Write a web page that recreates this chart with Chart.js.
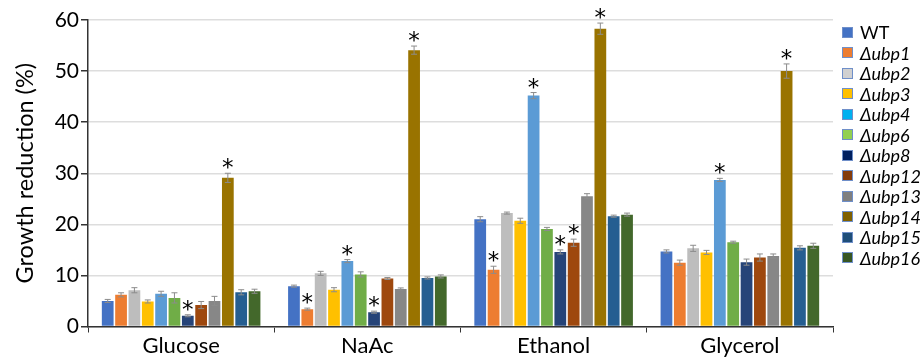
<!DOCTYPE html>
<html>
<head>
<meta charset="utf-8">
<script src="https://cdn.jsdelivr.net/npm/chart.js@4.4.0/dist/chart.umd.min.js"></script>
<style>
  html, body { margin: 0; padding: 0; background: #fff; }
  #wrap { position: relative; width: 922px; height: 357px; }
  #legend { position: absolute; left: 842px; top: 22px; font-family: Lato, "Open Sans", sans-serif; font-size: 18px; color: #000; }
  .item { height: 20.5px; display: flex; align-items: center; }
  .box { width: 9px; height: 9px; border: 1px solid #6F8FC9; margin-right: 7px; box-sizing: content-box; }
  .it { font-style: italic; }
</style>
</head>
<body>
<div id="wrap">
  <canvas id="c" width="922" height="357"></canvas>
  <div id="legend"></div>
</div>
<script>
const categories = ['Glucose', 'NaAc', 'Ethanol', 'Glycerol'];
const seriesNames = ['WT', 'Δubp1', 'Δubp2', 'Δubp3', 'Δubp4', 'Δubp6', 'Δubp8', 'Δubp12', 'Δubp13', 'Δubp14', 'Δubp15', 'Δubp16'];
const barColors = ['#4472C4', '#ED7D31', '#BDBDBD', '#FFC000', '#5B9BD5', '#70AD47', '#264478', '#9E480E', '#878787', '#997300', '#255E91', '#43682B'];
const legendColors = ['#4472C4', '#ED7D31', '#D0D0D0', '#FFC000', '#00B0F0', '#92D050', '#002060', '#843C0C', '#7F7F7F', '#7F6000', '#1F4E79', '#375623'];

// values per series: Glucose, NaAc, Ethanol, Glycerol
const valWT    = [5.0, 7.9, 21.0, 14.7];
const valUbp1  = [6.2, 3.4, 11.1, 12.5];
const valUbp2  = [7.1, 10.4, 22.2, 15.3];
const valUbp3  = [4.9, 7.2, 20.7, 14.5];
const valUbp4  = [6.4, 12.8, 45.2, 28.7];
const valUbp6  = [5.6, 10.2, 19.1, 16.5];
const valUbp8  = [2.1, 2.8, 14.6, 12.6];
const valUbp12 = [4.2, 9.4, 16.4, 13.5];
const valUbp13 = [5.0, 7.35, 25.5, 13.8];
const valUbp14 = [29.1, 54.1, 58.3, 50.0];
const valUbp15 = [6.7, 9.5, 21.6, 15.4];
const valUbp16 = [6.9, 9.8, 21.9, 15.8];

// error (± SD)
const errWT    = [0.3, 0.2, 0.5, 0.3];
const errUbp1  = [0.4, 0.2, 0.7, 0.5];
const errUbp2  = [0.5, 0.4, 0.2, 0.6];
const errUbp3  = [0.3, 0.4, 0.5, 0.4];
const errUbp4  = [0.5, 0.3, 0.6, 0.3];
const errUbp6  = [1.0, 0.5, 0.3, 0.2];
const errUbp8  = [0.2, 0.2, 0.4, 0.6];
const errUbp12 = [0.7, 0.2, 0.7, 0.7];
const errUbp13 = [0.9, 0.2, 0.5, 0.4];
const errUbp14 = [0.9, 0.8, 1.1, 1.4];
const errUbp15 = [0.5, 0.2, 0.2, 0.4];
const errUbp16 = [0.4, 0.3, 0.3, 0.5];

// significance markers (1 = asterisk)
const sigWT    = [0, 0, 0, 0];
const sigUbp1  = [0, 1, 1, 0];
const sigUbp2  = [0, 0, 0, 0];
const sigUbp3  = [0, 0, 0, 0];
const sigUbp4  = [0, 1, 1, 1];
const sigUbp6  = [0, 0, 0, 0];
const sigUbp8  = [1, 1, 1, 0];
const sigUbp12 = [0, 0, 1, 0];
const sigUbp13 = [0, 0, 0, 0];
const sigUbp14 = [1, 1, 1, 1];
const sigUbp15 = [0, 0, 0, 0];
const sigUbp16 = [0, 0, 0, 0];

const yTicks = [0, 10, 20, 30, 40, 50, 60];

const allVals = [valWT, valUbp1, valUbp2, valUbp3, valUbp4, valUbp6, valUbp8, valUbp12, valUbp13, valUbp14, valUbp15, valUbp16];
const allErrs = [errWT, errUbp1, errUbp2, errUbp3, errUbp4, errUbp6, errUbp8, errUbp12, errUbp13, errUbp14, errUbp15, errUbp16];
const allSigs = [sigWT, sigUbp1, sigUbp2, sigUbp3, sigUbp4, sigUbp6, sigUbp8, sigUbp12, sigUbp13, sigUbp14, sigUbp15, sigUbp16];

const datasets = seriesNames.map((name, i) => ({
  label: name,
  data: allVals[i],
  backgroundColor: barColors[i],
  borderWidth: 0,
  errors: allErrs[i],
  sig: allSigs[i],
  categoryPercentage: 0.86,
  barPercentage: 0.88
}));

const errorBarPlugin = {
  id: 'errorBars',
  afterDatasetsDraw(chart) {
    const ctx = chart.ctx;
    const y = chart.scales.y;
    ctx.save();
    chart.data.datasets.forEach((ds, di) => {
      const meta = chart.getDatasetMeta(di);
      meta.data.forEach((bar, j) => {
        const v = ds.data[j], e = ds.errors[j];
        const top = y.getPixelForValue(v + e);
        const bot = y.getPixelForValue(v - e);
        ctx.strokeStyle = '#8C8C8C';
        ctx.lineWidth = 1;
        ctx.beginPath();
        ctx.moveTo(bar.x, top); ctx.lineTo(bar.x, bot);
        ctx.moveTo(bar.x - 3, top); ctx.lineTo(bar.x + 3, top);
        ctx.moveTo(bar.x - 3, bot); ctx.lineTo(bar.x + 3, bot);
        ctx.stroke();
        if (ds.sig[j]) {
          ctx.fillStyle = '#000';
          ctx.font = '23px "DejaVu Sans", sans-serif';
          ctx.textAlign = 'center';
          ctx.textBaseline = 'alphabetic';
          const m = ctx.measureText('*');
          const center = top - 9.5;
          const base = center - (m.actualBoundingBoxDescent - m.actualBoundingBoxAscent) / 2;
          ctx.fillText('*', bar.x, base);
        }
      });
    });
    ctx.restore();
  }
};

new Chart(document.getElementById('c'), {
  type: 'bar',
  data: { labels: categories, datasets },
  options: {
    responsive: false,
    animation: false,
    devicePixelRatio: 1,
    layout: { padding: { top: 20, right: 89, bottom: 0, left: 0 } },
    plugins: { legend: { display: false }, tooltip: { enabled: false } },
    scales: {
      x: {
        grid: { display: true, offset: true, drawOnChartArea: false, drawTicks: true, tickLength: 6, tickColor: '#333', color: '#333' },
        border: { display: true, color: '#333', width: 1.5 },
        ticks: { color: '#000', font: { family: 'Lato', size: 22 }, padding: 0 },
        afterFit(s) { s.height = 30.5; }
      },
      y: {
        min: 0, max: 60,
        afterBuildTicks(s) { s.ticks = yTicks.map(v => ({ value: v })); },
        grid: { color: '#DDDDDD', lineWidth: 1.5, tickLength: 7, tickColor: '#333' },
        border: { display: true, color: '#333', width: 1.5 },
        ticks: { color: '#000', font: { family: 'Lato', size: 21 }, padding: 2 },
        title: { display: true, text: 'Growth reduction (%)', color: '#000', font: { family: 'Lato', size: 23.5 }, padding: { top: 11, bottom: 0 } },
        afterFit(s) { s.width = 88; }
      }
    }
  },
  plugins: [errorBarPlugin]
});

const legend = document.getElementById('legend');
seriesNames.forEach((name, i) => {
  const row = document.createElement('div');
  row.className = 'item';
  const box = document.createElement('div');
  box.className = 'box';
  box.style.background = legendColors[i];
  const txt = document.createElement('span');
  txt.textContent = name;
  if (i > 0) txt.className = 'it';
  row.appendChild(box); row.appendChild(txt);
  legend.appendChild(row);
});
</script>
</body>
</html>
